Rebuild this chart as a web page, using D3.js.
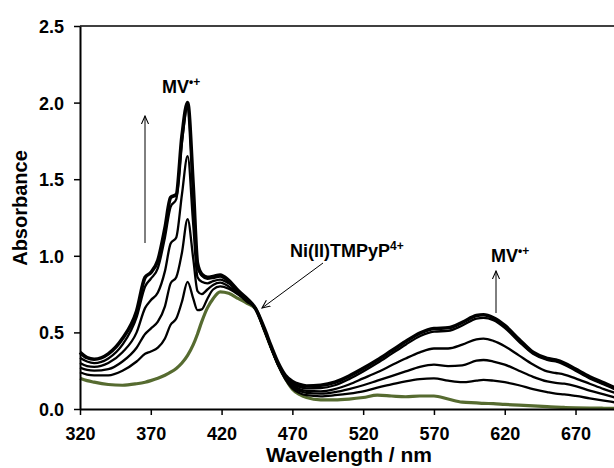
<!DOCTYPE html>
<html>
<head>
<meta charset="utf-8">
<script src="https://cdn.jsdelivr.net/npm/d3@7"></script>
<style>
  body { margin: 0; background: #fff; }
  svg { display: block; }
  text { font-family: "Liberation Sans", Arial, sans-serif; font-weight: bold; fill: #000; }
</style>
</head>
<body>
<div id="chart"></div>
<script>
// wavelengths (nm) shared by every spectrum
var wavelengths = [320, 325, 330, 340, 350, 360, 366, 370, 375, 380, 384, 388, 392, 396, 400, 403, 406, 410, 414, 419,
  425, 432, 438, 444, 450, 455, 460, 465, 470, 475, 480, 490, 500, 510, 520, 530, 540, 550, 560, 570,
  580, 590, 600, 605, 612, 620, 630, 640, 650, 656, 662, 670, 680, 690, 700];

// Ni(II)TMPyP4+ alone (green)
var niPorphyrin = [0.20, 0.185, 0.175, 0.16, 0.155, 0.165, 0.175, 0.185, 0.20, 0.22, 0.24, 0.265, 0.30, 0.35, 0.42, 0.49, 0.57, 0.66, 0.72, 0.765,
  0.755, 0.72, 0.69, 0.655, 0.52, 0.40, 0.29, 0.20, 0.13, 0.095, 0.075, 0.06, 0.06, 0.065, 0.075, 0.09, 0.085, 0.08, 0.085, 0.085,
  0.065, 0.045, 0.04, 0.037, 0.035, 0.03, 0.025, 0.02, 0.015, 0.012, 0.01, 0.008, 0.006, 0.005, 0.004];

// growing MV+ spectra (black), lowest first
var spec1 = [0.24, 0.225, 0.22, 0.22, 0.25, 0.31, 0.36, 0.375, 0.40, 0.46, 0.55, 0.59, 0.70, 0.83, 0.72, 0.645, 0.65, 0.72, 0.78, 0.80,
  0.785, 0.745, 0.70, 0.655, 0.52, 0.40, 0.285, 0.195, 0.135, 0.105, 0.09, 0.083, 0.09, 0.10, 0.115, 0.14, 0.16, 0.18, 0.195, 0.20,
  0.185, 0.175, 0.185, 0.19, 0.185, 0.175, 0.155, 0.13, 0.11, 0.10, 0.095, 0.085, 0.07, 0.055, 0.04];
var spec2 = [0.27, 0.255, 0.25, 0.26, 0.31, 0.40, 0.49, 0.525, 0.57, 0.67, 0.82, 0.86, 1.02, 1.24, 0.98, 0.77, 0.75, 0.78, 0.81, 0.825,
  0.80, 0.75, 0.705, 0.655, 0.52, 0.40, 0.285, 0.20, 0.145, 0.118, 0.105, 0.10, 0.11, 0.13, 0.155, 0.185, 0.215, 0.245, 0.275, 0.29,
  0.28, 0.285, 0.315, 0.32, 0.31, 0.29, 0.25, 0.21, 0.18, 0.17, 0.165, 0.15, 0.12, 0.095, 0.07];
var spec3 = [0.30, 0.28, 0.275, 0.30, 0.37, 0.50, 0.66, 0.71, 0.76, 0.90, 1.08, 1.12, 1.40, 1.65, 1.20, 0.86, 0.83, 0.82, 0.835, 0.845,
  0.82, 0.76, 0.71, 0.655, 0.52, 0.40, 0.29, 0.205, 0.155, 0.13, 0.118, 0.115, 0.13, 0.16, 0.20, 0.24, 0.285, 0.33, 0.37, 0.395,
  0.395, 0.42, 0.455, 0.46, 0.445, 0.41, 0.35, 0.29, 0.245, 0.235, 0.225, 0.20, 0.165, 0.13, 0.10];
var spec4 = [0.335, 0.31, 0.30, 0.33, 0.42, 0.60, 0.80, 0.85, 0.92, 1.12, 1.32, 1.37, 1.74, 1.97, 1.42, 0.93, 0.87, 0.85, 0.855, 0.865,
  0.83, 0.765, 0.715, 0.655, 0.525, 0.40, 0.29, 0.21, 0.165, 0.145, 0.135, 0.137, 0.155, 0.195, 0.245, 0.30, 0.36, 0.42, 0.475, 0.505,
  0.51, 0.545, 0.59, 0.595, 0.58, 0.53, 0.44, 0.36, 0.32, 0.31, 0.29, 0.25, 0.20, 0.16, 0.12];
var spec5 = [0.37, 0.335, 0.325, 0.36, 0.46, 0.64, 0.86, 0.89, 0.97, 1.18, 1.38, 1.40, 1.78, 2.0, 1.45, 0.95, 0.88, 0.86, 0.865, 0.875,
  0.84, 0.77, 0.72, 0.655, 0.53, 0.41, 0.30, 0.22, 0.18, 0.16, 0.15, 0.155, 0.175, 0.215, 0.265, 0.32, 0.38, 0.44, 0.495, 0.525,
  0.53, 0.565, 0.61, 0.615, 0.595, 0.545, 0.455, 0.37, 0.33, 0.32, 0.30, 0.26, 0.21, 0.17, 0.13];

var xTicks = [320, 370, 420, 470, 520, 570, 620, 670];
var yTicks = [0, 0.5, 1.0, 1.5, 2.0, 2.5];

var W = 614, H = 468;
var margin = { top: 26, left: 80 };
var plotBottom = 409, plotRight = 618;

var svg = d3.select("#chart").append("svg")
    .attr("width", W)
    .attr("height", H);

svg.append("defs").append("marker")
    .attr("id", "head")
    .attr("viewBox", "0 0 10 10")
    .attr("refX", 9).attr("refY", 5)
    .attr("markerWidth", 9).attr("markerHeight", 9)
    .attr("markerUnits", "userSpaceOnUse")
    .attr("orient", "auto")
    .append("path")
    .attr("d", "M0,1 L9,5 L0,9")
    .attr("fill", "none")
    .attr("stroke", "#000")
    .attr("stroke-width", 1.2);

var x = d3.scaleLinear().domain([320, 700]).range([margin.left, plotRight]);
var y = d3.scaleLinear().domain([0, 2.5]).range([plotBottom, margin.top]);

var line = d3.line()
    .x(function(d) { return x(d[0]); })
    .y(function(d) { return y(d[1]); })
    .curve(d3.curveMonotoneX);

function pts(vals) { return wavelengths.map(function(w, i) { return [w, vals[i]]; }); }

var g = svg.append("g");

// green first, black ones over it
g.append("path").attr("d", line(pts(niPorphyrin)))
    .attr("fill", "none").attr("stroke", "#566b30").attr("stroke-width", 3.2);

[spec1, spec2, spec3, spec4].forEach(function(s) {
    g.append("path").attr("d", line(pts(s)))
        .attr("fill", "none").attr("stroke", "#000").attr("stroke-width", 2.3);
});
g.append("path").attr("d", line(pts(spec5)))
    .attr("fill", "none").attr("stroke", "#000").attr("stroke-width", 3.6);

// frame: top line, left and bottom axes
svg.append("line").attr("x1", margin.left).attr("x2", plotRight)
    .attr("y1", margin.top).attr("y2", margin.top)
    .attr("stroke", "#000").attr("stroke-width", 1.5);

var xAxis = svg.append("g")
    .attr("transform", "translate(0," + plotBottom + ")")
    .call(d3.axisBottom(x).tickValues(xTicks).tickSize(6).tickSizeOuter(0).tickFormat(d3.format("d")));
var yAxis = svg.append("g")
    .attr("transform", "translate(" + margin.left + ",0)")
    .call(d3.axisLeft(y).tickValues(yTicks).tickSize(6).tickSizeOuter(0).tickFormat(d3.format(".1f")));

[xAxis, yAxis].forEach(function(a) {
    a.select(".domain").attr("stroke", "#000").attr("stroke-width", 2);
    a.selectAll(".tick line").attr("stroke", "#000").attr("stroke-width", 1.5);
    a.selectAll("text").style("font-size", "18px").attr("fill", "#000");
});
xAxis.selectAll("text").attr("y", 31).attr("dy", 0);
yAxis.selectAll("text").attr("x", -16).attr("dy", "0.36em");

svg.append("text")
    .attr("x", 349).attr("y", 462)
    .attr("text-anchor", "middle")
    .style("font-size", "21px")
    .text("Wavelength / nm");

svg.append("text")
    .attr("transform", "translate(27,208) rotate(-90)")
    .attr("text-anchor", "middle")
    .style("font-size", "20px")
    .text("Absorbance");

// labels
function label(px, py, main, sup) {
    var t = svg.append("text").attr("x", px).attr("y", py).style("font-size", "18px");
    t.append("tspan").text(main);
    t.append("tspan").attr("dy", -7).style("font-size", "12px").text(sup);
}
label(162, 93, "MV", "\u2022+");
label(290, 257, "Ni(II)TMPyP", "4+");
label(491, 262, "MV", "\u2022+");

// arrows
svg.append("line").attr("x1", 145).attr("y1", 243).attr("x2", 145).attr("y2", 116)
    .attr("stroke", "#000").attr("stroke-width", 1).attr("marker-end", "url(#head)");
svg.append("line").attr("x1", 323).attr("y1", 263).attr("x2", 262).attr("y2", 308)
    .attr("stroke", "#000").attr("stroke-width", 1).attr("marker-end", "url(#head)");
svg.append("line").attr("x1", 496).attr("y1", 313).attr("x2", 496).attr("y2", 271)
    .attr("stroke", "#000").attr("stroke-width", 1).attr("marker-end", "url(#head)");
</script>
</body>
</html>
